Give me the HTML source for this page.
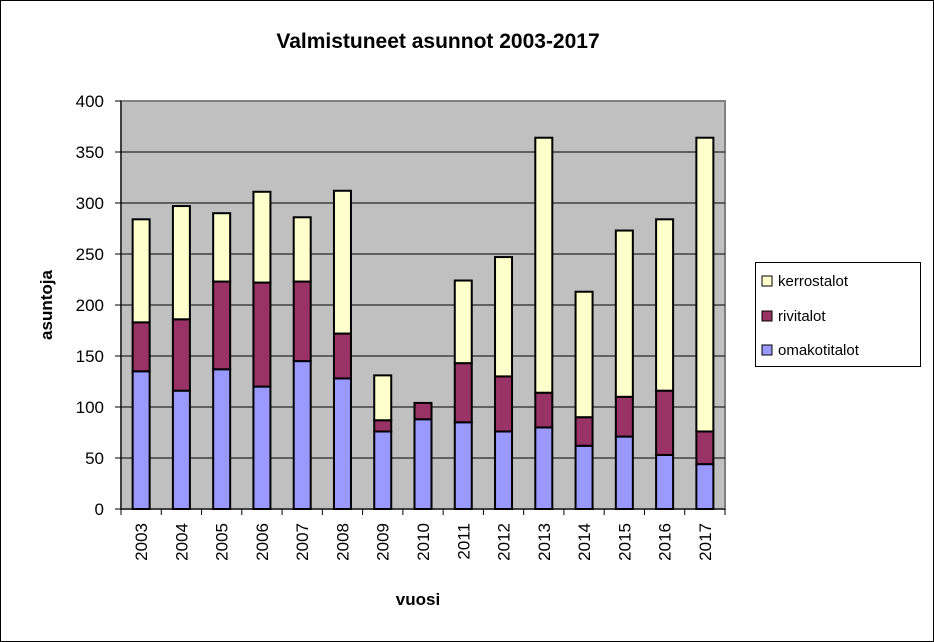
<!DOCTYPE html>
<html><head><meta charset="utf-8"><style>
html,body{margin:0;padding:0;background:#fff}
svg{display:block;font-family:"Liberation Sans",Arial,sans-serif}
</style></head><body>
<svg width="934" height="642" viewBox="0 0 934 642">
<rect x="0.5" y="0.5" width="933" height="641" fill="#fff" stroke="#000"/>
<text x="438" y="48" text-anchor="middle" font-size="21" font-weight="bold">Valmistuneet asunnot 2003-2017</text>
<rect x="121" y="101" width="604" height="408" fill="#c0c0c0" stroke="#808080" stroke-width="2"/>
<g id="grid"></g>
<g id="bars"></g>
<g id="axes"></g>
<text transform="translate(52,305) rotate(-90)" text-anchor="middle" font-size="17" font-weight="bold">asuntoja</text>
<text x="418" y="605" text-anchor="middle" font-size="17" font-weight="bold">vuosi</text>
<g>
<rect x="755.5" y="262.5" width="165" height="104" fill="#fff" stroke="#000"/>
<rect x="762" y="276" width="10" height="10" fill="#ffffcc" stroke="#000"/>
<text x="778" y="286" font-size="15">kerrostalot</text>
<rect x="762" y="311" width="10" height="10" fill="#993366" stroke="#000"/>
<text x="778" y="321" font-size="15">rivitalot</text>
<rect x="762" y="345" width="10" height="10" fill="#9999ff" stroke="#000"/>
<text x="778" y="355" font-size="15">omakotitalot</text>
</g>
</svg>
<script>
const years = ["2003","2004","2005","2006","2007","2008","2009","2010","2011","2012","2013","2014","2015","2016","2017"];
const omakotitalot = [135,116,137,120,145,128,76,88,85,76,80,62,71,53,44];
const rivitalot = [48,70,86,102,78,44,11,16,58,54,34,28,39,63,32];
const kerrostalot = [101,111,67,89,63,140,44,0,81,117,250,123,163,168,288];
const yTicks = [0,50,100,150,200,250,300,350,400];
const NS="http://www.w3.org/2000/svg";
const X0=121,X1=725,Y0=509,Y1=101,YMAX=400;
const y=v=>Y0-(v/YMAX)*(Y0-Y1);
const band=(X1-X0)/years.length;
const xc=i=>X0+band*(i+0.5);
function mk(tag,attrs,parent){const e=document.createElementNS(NS,tag);for(const k in attrs)e.setAttribute(k,attrs[k]);parent.appendChild(e);return e;}
const grid=document.getElementById('grid'),bars=document.getElementById('bars'),axes=document.getElementById('axes');
yTicks.forEach(t=>{
  if(t>0&&t<YMAX){const l=mk('line',{x1:X0,x2:X1,y1:y(t),y2:y(t),stroke:'#000','stroke-width':1},grid);
  
  }
  const tk=mk('line',{x1:X0-6,x2:X0,y1:y(t),y2:y(t),stroke:'#000'},axes);
  
  
  const tx=mk('text',{x:X0-17,y:y(t)+6,'text-anchor':'end','font-size':17},axes);
  tx.textContent=t;
  
  
});
mk('line',{x1:X0,x2:X0,y1:Y1,y2:Y0,stroke:'#000'},axes);
mk('line',{x1:X0,x2:X1,y1:Y0,y2:Y0,stroke:'#000'},axes);
for(let i=0;i<=years.length;i++){
  const xx=X0+band*i;
  const tk=mk('line',{x1:xx,x2:xx,y1:Y0,y2:Y0+6,stroke:'#000'},axes);
  
  
}
const series=[[omakotitalot,'#9999ff','omakotitalot'],[rivitalot,'#993366','rivitalot'],[kerrostalot,'#ffffcc','kerrostalot']];
const bw=17;
years.forEach((yr,i)=>{
  let base=0;
  series.forEach(([arr,col,nm])=>{
    const v=arr[i];
    if(v>0){
      const r=mk('rect',{x:xc(i)-bw/2,y:y(base+v),width:bw,height:y(base)-y(base+v),fill:col,stroke:'#000','stroke-width':2},bars);
      
      
    }
    base+=v;
  });
  const t=mk('text',{transform:`translate(${xc(i)+6},${Y0+14}) rotate(-90)`,'text-anchor':'end','font-size':17},axes);
  t.textContent=yr;
  
  
});
</script>
</body></html>
